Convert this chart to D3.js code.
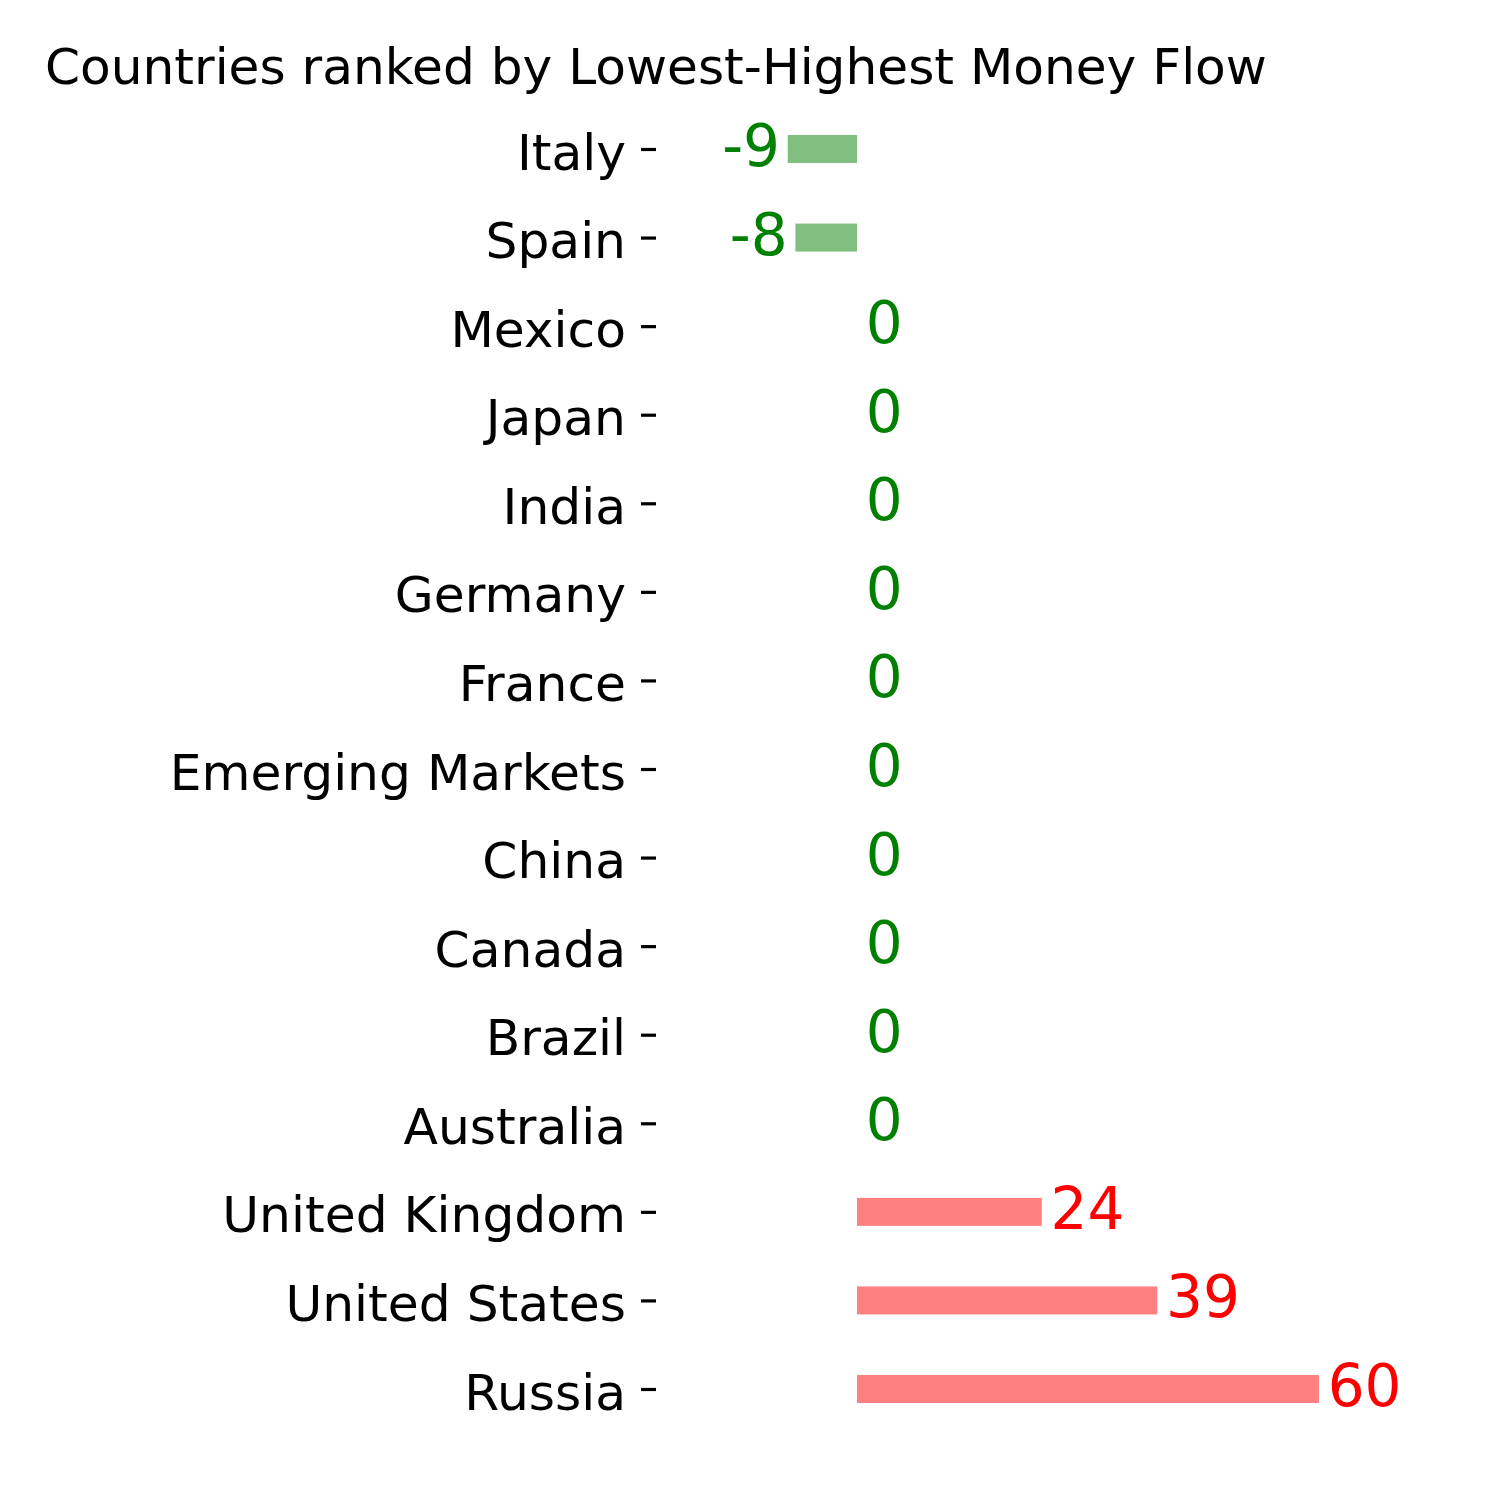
<!DOCTYPE html>
<html>
<head>
<meta charset="utf-8">
<script src="https://cdn.jsdelivr.net/npm/d3@7"></script>
<style>
  html, body { margin: 0; padding: 0; background: #fff; }
  svg { display: block; font-family: "DejaVu Sans", sans-serif; }
</style>
</head>
<body>
<script>
const countries = ["Italy", "Spain", "Mexico", "Japan", "India", "Germany", "France",
  "Emerging Markets", "China", "Canada", "Brazil", "Australia",
  "United Kingdom", "United States", "Russia"];
const values = [-9, -8, 0, 0, 0, 0, 0, 0, 0, 0, 0, 0, 24, 39, 60];
const titleText = "Countries ranked by Lowest-Highest Money Flow";

const data = countries.map((c, i) => ({ country: c, value: values[i] }));

const W = 1500, H = 1500;
const svg = d3.select("body").append("svg").attr("width", W).attr("height", H);

const x = d3.scaleLinear().domain([0, 60]).range([857, 1319]);
const y = d3.scalePoint().domain(countries).range([149, 1389]);
const barH = 28;
const axisX = 656;

const colorText = v => v > 0 ? "#ff0000" : "#008000";
const colorBar = v => v > 0 ? "#ff8080" : "#80bf80";

// Title
svg.append("text")
  .attr("x", 45).attr("y", 84)
  .attr("font-size", 50.2)
  .attr("fill", "#000")
  .text(titleText);

// Y axis
const yAxis = d3.axisLeft(y).tickSize(15).tickPadding(15);
const gAxis = svg.append("g").attr("transform", `translate(${axisX},0)`).call(yAxis);
gAxis.select(".domain").remove();
gAxis.selectAll(".tick line").attr("stroke", "#000").attr("stroke-width", 3.2);
gAxis.selectAll(".tick text")
  .attr("font-size", 50.3)
  .attr("font-family", "DejaVu Sans, sans-serif")
  .attr("fill", "#000")
  .attr("dy", null)
  .attr("y", 20);

// Bars
svg.append("g").selectAll("rect")
  .data(data)
  .join("rect")
  .attr("x", d => Math.min(x(0), x(d.value)))
  .attr("width", d => Math.abs(x(d.value) - x(0)))
  .attr("y", d => y(d.country) - barH / 2)
  .attr("height", barH)
  .attr("fill", d => colorBar(d.value));

// Value labels
svg.append("g").selectAll("text")
  .data(data)
  .join("text")
  .attr("x", d => d.value < 0 ? x(d.value - 1) : x(d.value + 1) + 1)
  .attr("y", d => y(d.country) + 17)
  .attr("text-anchor", d => d.value < 0 ? "end" : "start")
  .attr("font-size", 58)
  .attr("fill", d => colorText(d.value))
  .text(d => d.value);
</script>
</body>
</html>
